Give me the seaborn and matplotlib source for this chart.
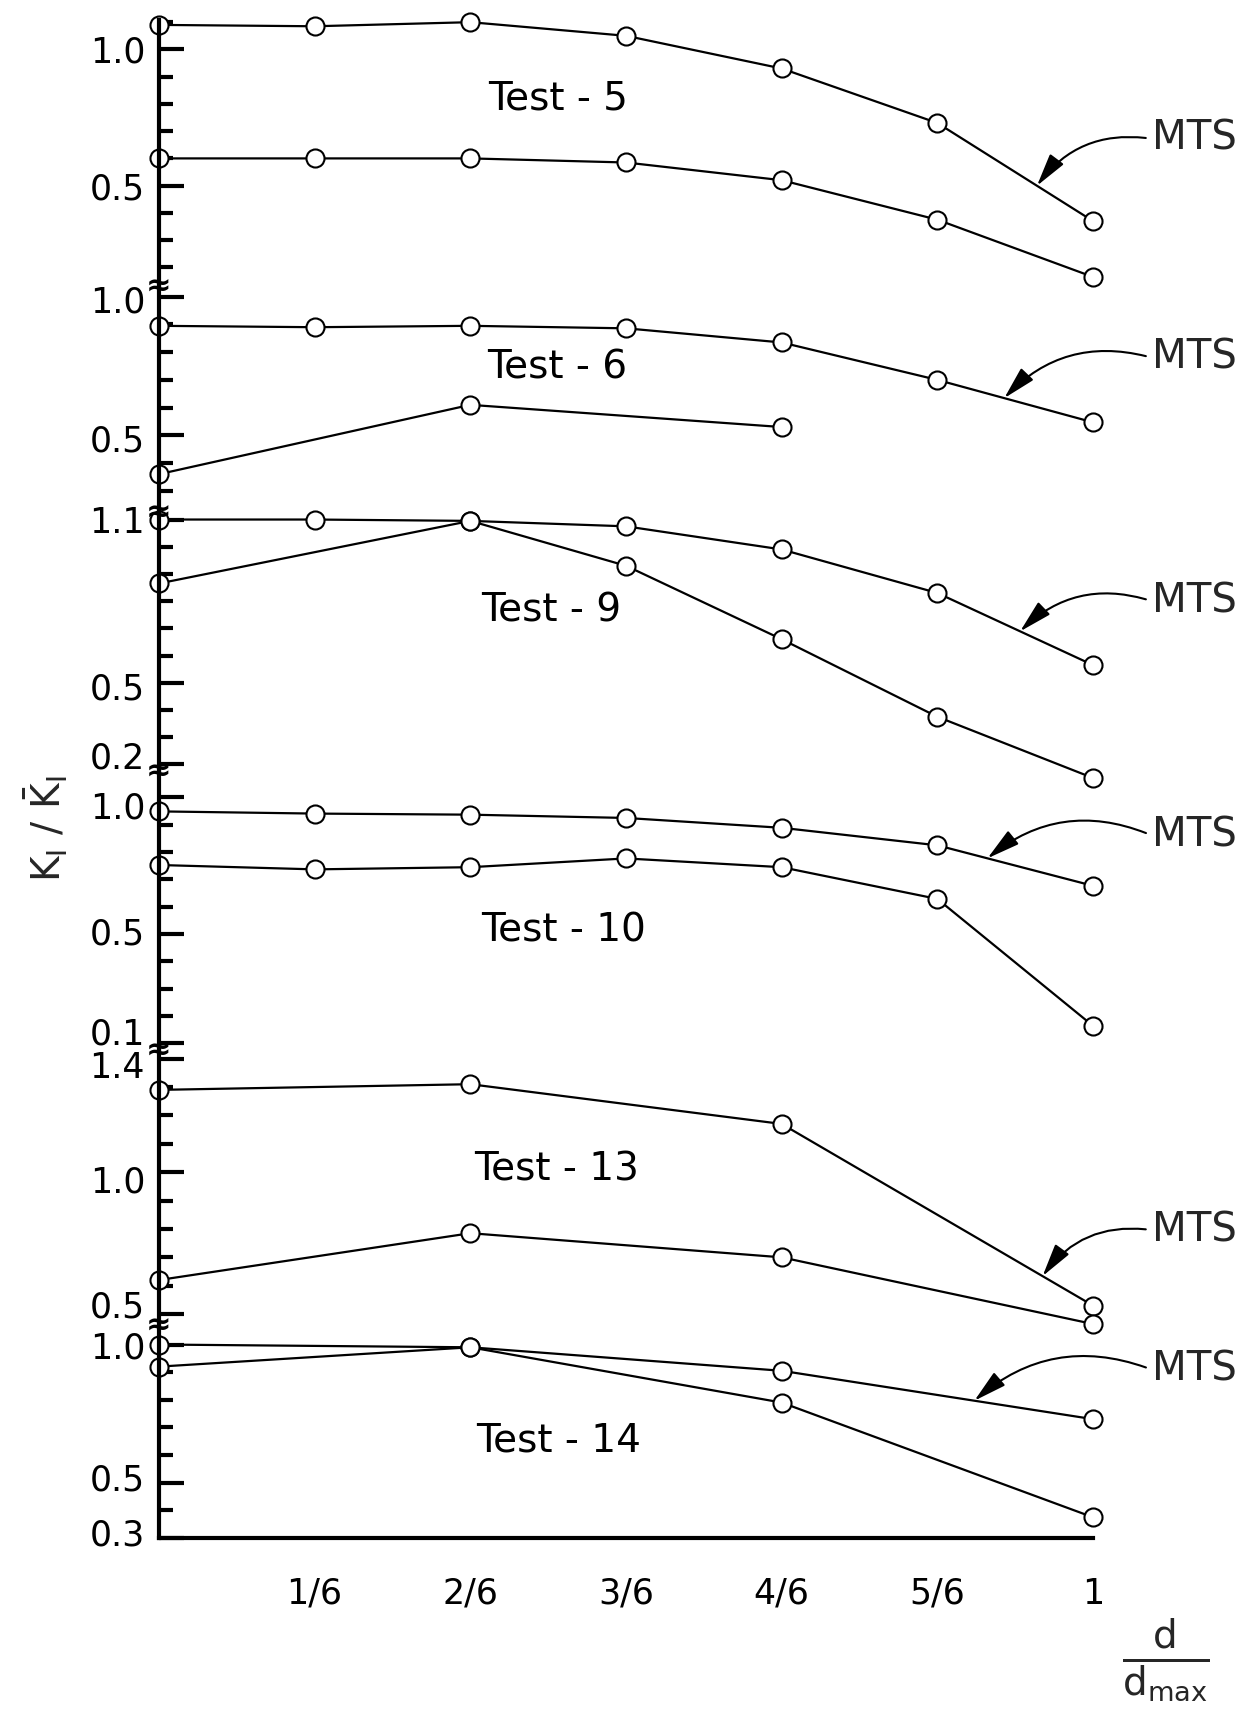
import numpy as np
import matplotlib
matplotlib.use("Agg")
import matplotlib.pyplot as plt
import matplotlib.transforms as mtransforms
import seaborn as sns
import pandas as pd

sns.set_theme(style="white")
plt.rcParams['font.family'] = ['DejaVu Sans']
plt.rcParams['mathtext.fontset'] = 'dejavusans'

# ---------------- data ----------------
x_tick_values = [1/6, 2/6, 3/6, 4/6, 5/6, 1]
x_tick_labels = ["1/6", "2/6", "3/6", "4/6", "5/6", "1"]
x_all = [0, 1/6, 2/6, 3/6, 4/6, 5/6, 1]

test_names = ["Test - 5", "Test - 6", "Test - 9", "Test - 10", "Test - 13", "Test - 14"]

t5_x_mts = x_all
t5_mts = [1.09, 1.085, 1.10, 1.05, 0.93, 0.73, 0.37]
t5_x_other = x_all
t5_other = [0.60, 0.60, 0.60, 0.585, 0.52, 0.375, 0.165]

t6_x_mts = x_all
t6_mts = [0.895, 0.89, 0.895, 0.886, 0.835, 0.70, 0.547]
t6_x_other = [0, 2/6, 4/6]
t6_other = [0.36, 0.61, 0.53]

t9_x_mts = x_all
t9_mts = [1.10, 1.10, 1.095, 1.075, 0.99, 0.83, 0.565]
t9_x_other = [0, 2/6, 3/6, 4/6, 5/6, 1]
t9_other = [0.865, 1.095, 0.93, 0.66, 0.375, 0.15]

t10_x_mts = x_all
t10_mts = [0.948, 0.94, 0.936, 0.924, 0.888, 0.824, 0.676]
t10_x_other = x_all
t10_other = [0.752, 0.736, 0.744, 0.776, 0.744, 0.628, 0.164]

t13_x_mts = [0, 2/6, 4/6, 1]
t13_mts = [1.29, 1.31, 1.17, 0.53]
t13_x_other = [0, 2/6, 4/6, 1]
t13_other = [0.62, 0.785, 0.70, 0.465]

t14_x_mts = [0, 2/6, 4/6, 1]
t14_mts = [1.0, 0.99, 0.905, 0.73]
t14_x_other = [0, 2/6, 4/6, 1]
t14_other = [0.92, 0.99, 0.79, 0.375]

y_major = [[1.0, 0.5], [1.0, 0.5], [1.1, 0.5, 0.2], [1.0, 0.5, 0.1], [1.4, 1.0, 0.5], [1.0, 0.5, 0.3]]
y_major_labels = [["1.0", "0.5"], ["1.0", "0.5"], ["1.1", "0.5", "0.2"],
                  ["1.0", "0.5", "0.1"], ["1.4", "1.0", "0.5"], ["1.0", "0.5", "0.3"]]
y_limits = [(0.128, 1.108), (0.22, 1.035), (0.172, 1.124), (0.072, 1.092), (0.458, 1.427), (0.30, 1.067)]

panels = [
    (t5_x_mts, t5_mts, t5_x_other, t5_other),
    (t6_x_mts, t6_mts, t6_x_other, t6_other),
    (t9_x_mts, t9_mts, t9_x_other, t9_other),
    (t10_x_mts, t10_mts, t10_x_other, t10_other),
    (t13_x_mts, t13_mts, t13_x_other, t13_other),
    (t14_x_mts, t14_mts, t14_x_other, t14_other),
]

# label nudges (points, positive = downwards) so crowded labels do not collide
label_nudge = [[0, 0], [2, 2], [0, 2, -7], [6, -2, -9], [4, 5, -7], [0, -4, -4]]

# annotation placement (data coords of each panel)
test_label_pos = [(0.427, 0.82), (0.426, 0.744), (0.42, 0.764), (0.433, 0.512), (0.426, 1.008), (0.428, 0.654)]
mts_text_pos = [(1.063, 0.672), (1.063, 0.78), (1.063, 0.80), (1.063, 0.86), (1.063, 0.796), (1.063, 0.909)]
mts_arrow_x = [0.94, 0.905, 0.922, 0.887, 0.946, 0.873]

# ---------------- layout ----------------
W, H = 1259, 1711
fig = plt.figure(figsize=(W / 100, H / 100), dpi=100)
left_px, right_px = 159, 1093
bounds = [20, 287, 513, 772, 1051, 1326, 1538]

axes = []
for i in range(6):
    top, bot = bounds[i], bounds[i + 1]
    ax = fig.add_axes([left_px / W, 1 - bot / H, (right_px - left_px) / W, (bot - top) / H])
    ax.set_facecolor('none')
    axes.append(ax)

for i, ax in enumerate(axes):
    xm, ym, xo, yo = panels[i]
    df_m = pd.DataFrame({"x": xm, "y": ym})
    df_o = pd.DataFrame({"x": xo, "y": yo})
    for df in (df_m, df_o):
        sns.lineplot(data=df, x="x", y="y", ax=ax, color="black", linewidth=1.6,
                     marker="o", markersize=13, markerfacecolor="white",
                     markeredgecolor="black", markeredgewidth=1.5, estimator=None, sort=False)
    for ln in ax.lines:
        ln.set_clip_on(False)

    lo, hi = y_limits[i]
    ax.set_xlim(0, 1)
    ax.set_ylim(lo, hi)
    for s in ("top", "right"):
        ax.spines[s].set_visible(False)
    ax.spines["left"].set_linewidth(3)
    ax.spines["left"].set_color("black")
    if i < 5:
        ax.spines["bottom"].set_visible(False)
        ax.set_xticks([])
    else:
        ax.spines["bottom"].set_linewidth(3)
        ax.spines["bottom"].set_color("black")
        ax.set_xticks(x_tick_values)
        ax.set_xticklabels(x_tick_labels, fontsize=25)
        ax.tick_params(axis="x", direction="in", length=17, width=1.8, pad=28, colors="black")

    ax.set_yticks(y_major[i])
    ax.set_yticklabels(y_major_labels[i], fontsize=25)
    minor = [round(v, 1) for v in np.arange(0.1, 1.6, 0.1)
             if lo + 0.005 < v < hi - 0.005 and round(v, 1) not in y_major[i]]
    ax.set_yticks(minor, minor=True)
    ax.tick_params(axis="y", which="major", direction="in", length=18, width=3, pad=10,
                   colors="black", left=True)
    ax.tick_params(axis="y", which="minor", direction="in", length=10, width=3,
                   colors="black", left=True)
    ax.set_xlabel("")
    ax.set_ylabel("")
    ax.grid(False)

    ticks = ax.yaxis.get_major_ticks()
    for t, dy in zip(ticks, label_nudge[i]):
        off = mtransforms.ScaledTranslation(0, -dy / 72, fig.dpi_scale_trans)
        t.label1.set_transform(t.label1.get_transform() + off)

    tx, ty = test_label_pos[i]
    ax.text(tx, ty, test_names[i], fontsize=28, ha="center", va="center", color="black")

    mx, my = mts_text_pos[i]
    ax_x = mts_arrow_x[i]
    ay = float(np.interp(ax_x, xm, ym))
    ax.annotate("MTS", xy=(ax_x, ay), xytext=(mx, my), fontsize=29, ha="left", va="center",
                annotation_clip=False,
                arrowprops=dict(arrowstyle="-|>,head_length=0.7,head_width=0.18",
                                connectionstyle="arc3,rad=0.3", color="black",
                                linewidth=1.5, relpos=(0, 0.5), shrinkA=2, shrinkB=0))

# break symbols on the y axis
for b in bounds[1:-1]:
    fig.text(left_px / W, 1 - b / H, "≈", fontsize=22, ha="center", va="center",
             color="black", fontweight="bold")

# axis labels
fig.text(46 / W, 1 - 829 / H, r"$\mathregular{K_I\ /\ \bar{K}_I}$", rotation=90,
         fontsize=28, ha="center", va="center")
fig.text(1122 / W, 1 - 1660 / H, r"$\frac{\mathregular{d}}{\mathregular{d_{max}}}$", fontsize=40,
         ha="left", va="center")

fig.savefig("out.png", dpi=100, facecolor="white")
